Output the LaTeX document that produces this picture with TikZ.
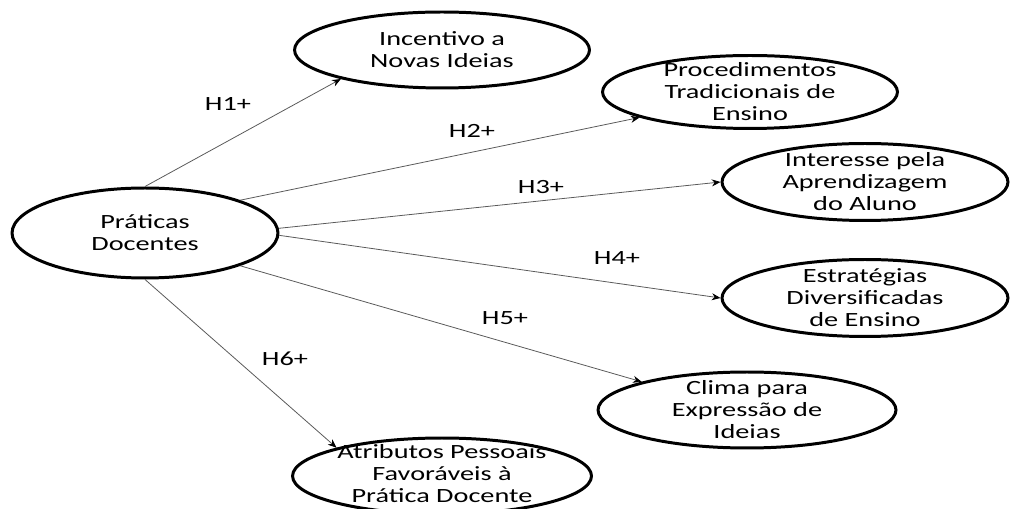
\documentclass[tikz,border=0pt]{standalone}
\usepackage{fontspec}
\setmainfont{Carlito}[FakeStretch=1.4]
\usepackage{tikz}
\usetikzlibrary{shapes.geometric,arrows.meta}

\tikzset{
  construto/.style={draw=black, ellipse, line width=1.7pt, inner sep=0pt},
  texto/.style={align=center, inner sep=0pt, font=\fontsize{11.5}{12.5}\selectfont},
  hip/.style={draw=black!65, line width=0.45pt, -{Stealth[length=5pt,width=4pt,black]}},
  rotulo/.style={inner sep=0pt, font=\fontsize{11.5}{12.5}\selectfont}
}

\begin{document}
\begin{tikzpicture}[x=0.02cm, y=-0.02cm]
\useasboundingbox (0,0) rectangle (1011,509);
% construtos
\node [construto, minimum width=5.32cm, minimum height=1.8cm,
  label={[texto]center:Práticas\\Docentes}] (prat) at (145,233) {};
\node [construto, minimum width=5.9cm, minimum height=1.52cm,
  label={[texto]center:Incentivo a\\Novas Ideias}] (inc) at (442,50) {};
\node [construto, minimum width=5.9cm, minimum height=1.46cm,
  label={[texto]center:Procedimentos\\Tradicionais de\\Ensino}] (proc) at (750,92) {};
\node [construto, minimum width=5.72cm, minimum height=1.54cm,
  label={[texto]center:Interesse pela\\Aprendizagem\\do Aluno}] (inter) at (865,182) {};
\node [construto, minimum width=5.72cm, minimum height=1.54cm,
  label={[texto]center:Estratégias\\Diversificadas\\de Ensino}] (estr) at (865,298) {};
\node [construto, minimum width=5.96cm, minimum height=1.52cm,
  label={[texto]center:Clima para\\Expressão de\\Ideias}] (clima) at (747,410) {};
\node [construto, minimum width=5.98cm, minimum height=1.52cm,
  label={[texto, yshift=0.04cm]center:Atributos Pessoais\\Favoráveis à\\Prática Docente}] (atr) at (442,476) {};
% hipoteses
\draw [hip] (prat.90) -- (inc.196);
\draw [hip] (prat.19) -- (proc.193);
\draw [hip] (prat.2) -- (inter.180);
\draw [hip] (prat.-1) -- (estr.180);
\draw [hip] (prat.-19) -- (clima.165);
\draw [hip] (prat.-90) -- (atr.165);
\node [rotulo] (h1) at (228,104) {H1+};
\node [rotulo] (h2) at (472,131) {H2+};
\node [rotulo] (h3) at (541,187) {H3+};
\node [rotulo] (h4) at (617,258) {H4+};
\node [rotulo] (h5) at (505,318) {H5+};
\node [rotulo] (h6) at (285,359) {H6+};
\end{tikzpicture}
\end{document}
